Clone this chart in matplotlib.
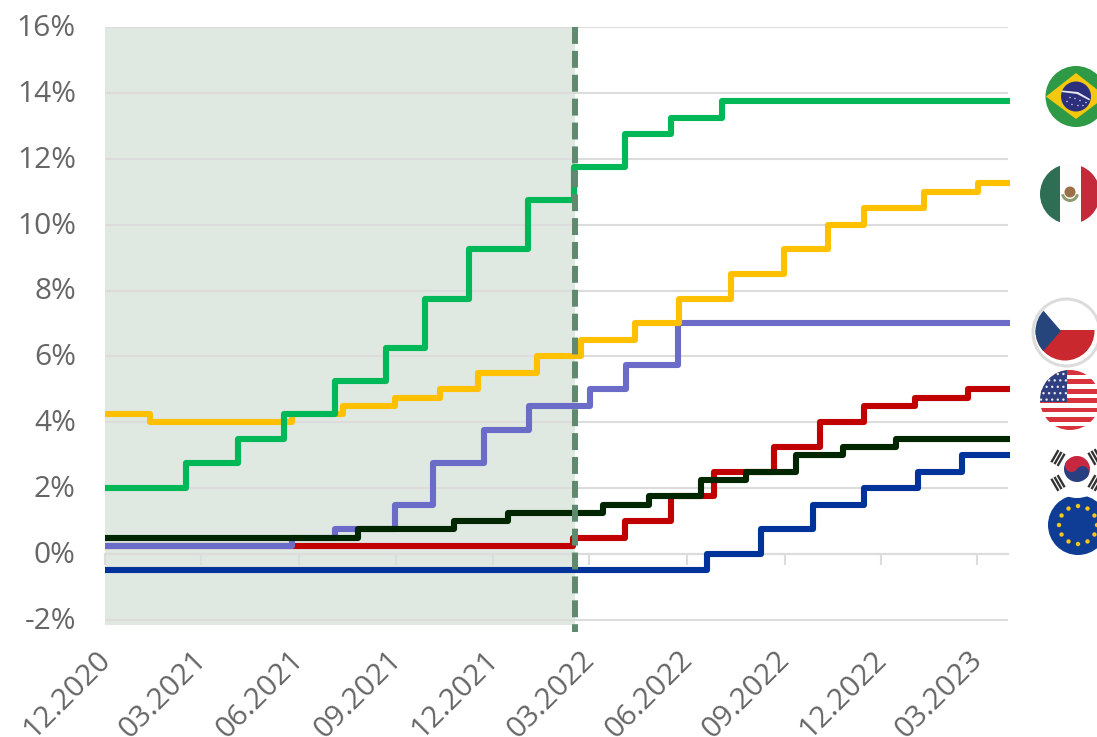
import matplotlib
matplotlib.use('Agg')
import matplotlib.pyplot as plt
from matplotlib.patches import Circle, Polygon, Rectangle, Wedge
from matplotlib.transforms import ScaledTranslation
import numpy as np

plt.rcParams['font.family'] = ['Open Sans', 'DejaVu Sans']

# x values are days counted from 12.2020, y values are policy rates in %
tick_days = [0, 90, 182, 274, 365, 455, 547, 639, 730, 820]
tick_labels = ['12.2020', '03.2021', '06.2021', '09.2021', '12.2021',
               '03.2022', '06.2022', '09.2022', '12.2022', '03.2023']
y_ticks = [-2, 0, 2, 4, 6, 8, 10, 12, 14, 16]
end_day = 851
cut_day = 442

eu_days = [0, 566, 617, 666, 714, 764, 806, end_day]
eu_rate = [-0.5, 0, 0.75, 1.5, 2, 2.5, 3, 3]
us_days = [0, 440, 489, 532, 573, 629, 672, 714, 762, 811, end_day]
us_rate = [0.25, 0.5, 1, 1.75, 2.5, 3.25, 4, 4.5, 4.75, 5, 5]
cz_days = [0, 176, 216, 273, 308, 356, 399, 456, 490, 539, end_day]
cz_rate = [0.25, 0.5, 0.75, 1.5, 2.75, 3.75, 4.5, 5, 5.75, 7, 7]
mx_days = [0, 42, 176, 224, 273, 315, 351, 406, 448, 498, 540, 589, 638, 680, 714, 770, 821, end_day]
mx_rate = [4.25, 4, 4.25, 4.5, 4.75, 5, 5.5, 6, 6.5, 7, 7.75, 8.5, 9.25, 10, 10.5, 11, 11.25, 11.25]
br_days = [0, 76, 125, 168, 216, 264, 301, 342, 398, 441, 489, 532, 580, end_day]
br_rate = [2, 2.75, 3.5, 4.25, 5.25, 6.25, 7.75, 9.25, 10.75, 11.75, 12.75, 13.25, 13.75, 13.75]
kr_days = [0, 238, 328, 379, 468, 511, 560, 603, 650, 694, 744, end_day]
kr_rate = [0.5, 0.75, 1, 1.25, 1.5, 1.75, 2.25, 2.5, 3, 3.25, 3.5, 3.5]

W, H = 1097, 737
fig = plt.figure(figsize=(W / 100, H / 100), dpi=100)
ax = fig.add_axes([105 / W, 1 - 625 / H, (1008 - 105) / W, (625 - 27) / H])

ax.axvspan(0, cut_day, color='#dfe8e1', lw=0, zorder=0)
for days, rate, col in [(eu_days, eu_rate, '#003399'), (us_days, us_rate, '#C00000'),
                        (cz_days, cz_rate, '#6B6BC8'), (mx_days, mx_rate, '#FFC000'),
                        (br_days, br_rate, '#00B858'), (kr_days, kr_rate, '#002600')]:
    ax.plot(days, rate, drawstyle='steps-post', color=col, lw=4.4, clip_on=False,
            solid_joinstyle='round', solid_capstyle='butt', zorder=3)
ax.plot([cut_day, cut_day], [16, -2.37], color='#5f8a6e', lw=4.3, clip_on=False, zorder=4,
        linestyle=(0, (17 / 6, 7 / 6)), dash_capstyle='butt')

ax.set_xlim(0, 849)
ax.set_ylim(-2.155, 16)
ax.set_yticks(y_ticks)
ax.set_yticklabels(['%d%%' % v for v in y_ticks])
ax.set_xticks(tick_days)
ax.set_xticklabels(tick_labels)
ax.yaxis.grid(True, color='#dcdcdc', lw=1.5, zorder=1)
ax.set_axisbelow(True)
for side in ['top', 'right', 'left']:
    ax.spines[side].set_visible(False)
ax.spines['bottom'].set_position(('data', 0))
ax.spines['bottom'].set_color('#dcdcdc')
ax.spines['bottom'].set_linewidth(1.5)
ax.tick_params(axis='y', length=0, pad=21, labelsize=21.5, labelcolor='#666666')
ax.tick_params(axis='x', length=8, width=1.5, color='#dcdcdc', pad=64, labelsize=21.5,
               labelcolor='#666666', labelrotation=45)
for lab in ax.get_xticklabels():
    lab.set_ha('right')
    lab.set_va('top')
    lab.set_rotation_mode('anchor')
    lab.set_transform(lab.get_transform() + ScaledTranslation(-9 / 100, 9 / 100, fig.dpi_scale_trans))
for lab in ax.get_yticklabels():
    lab.set_transform(lab.get_transform() + ScaledTranslation(0, 1.5 / 72, fig.dpi_scale_trans))

# flags, in an overlay measured in image pixels
fl = fig.add_axes([0, 0, 1, 1], zorder=5)
fl.set_xlim(0, W)
fl.set_ylim(H, 0)
fl.axis('off')


def flag(cx, cy, r, shapes):
    clip = Circle((cx, cy), r, transform=fl.transData)
    for s in shapes:
        fl.add_patch(s)
        s.set_clip_path(clip)


def rect(x0, y0, x1, y1, col):
    return Rectangle((x0, y0), x1 - x0, y1 - y0, color=col, lw=0)


# Brazil
br_shapes = [
    rect(1040, 60, 1110, 130, '#2f9a45'),
    Polygon([(1046, 96.5), (1076, 73), (1106, 96.5), (1076, 119)], color='#f3c80f', lw=0),
    Circle((1076, 96.5), 15, color='#2c2f7c', lw=0),
    Polygon([(1062, 90.5), (1078, 92), (1090, 99), (1089.5, 100.5), (1077, 94), (1061.5, 92)], color='#e8e8f0', lw=0),
]
for dx, dy in [(-9, 5), (-4, 8), (-1, 2), (4, 4), (2, 9), (7, 9), (10, 6), (-6, 1)]:
    br_shapes.append(Circle((1076 + dx, 96.5 + dy), 0.7, color='#e8e8f0', lw=0))
flag(1076, 96.5, 30.5, br_shapes)

# Mexico
flag(1070, 194, 30, [
    rect(1035, 160, 1060, 230, '#2e6e55'),
    rect(1060, 160, 1081, 230, '#fdfdfd'),
    rect(1081, 160, 1105, 230, '#c52a3a'),
    Wedge((1070, 193), 9, 10, 170, width=3, color='#8f9a70', lw=0),
    Circle((1070, 192), 5.5, color='#9a7048', lw=0),
])

# Czech
fl.add_patch(Circle((1066.5, 332.5), 33.5, facecolor='white', edgecolor='#dcdcdc', lw=2.2))
flag(1065, 331, 29.5, [
    rect(1030, 300, 1100, 330, '#ffffff'),
    rect(1030, 330, 1100, 370, '#c9282f'),
    Polygon([(1030, 295), (1061, 331), (1030, 366)], color='#27457d', lw=0),
])

# USA
us_shapes = [rect(1035, 365, 1105, 435, '#ffffff')]
for i in range(7):
    us_shapes.append(rect(1035, 370 + i * 9.4, 1105, 374.7 + i * 9.4, '#d8323c'))
us_shapes.append(rect(1035, 365, 1067, 402, '#2f3f7f'))
for row in range(5):
    for col in range(5):
        us_shapes.append(Circle((1041 + col * 5.6 + (row % 2) * 2.5, 374 + row * 6.4), 1.2,
                                color='#e8e8f0', lw=0))
flag(1070, 400, 30, us_shapes)

# EU, partly covered by the white Korean disc
eu_shapes = [rect(1040, 490, 1110, 560, '#0f3c94')]
for a in np.arange(0, 360, 30):
    eu_shapes.append(Circle((1078 + 19 * np.cos(np.radians(a)), 525 + 19 * np.sin(np.radians(a))), 2.2,
                            color='#f5c518', lw=0))
flag(1078, 525, 30, eu_shapes)

# Korea
fl.add_patch(Circle((1077, 468), 30, color='#ffffff', lw=0, zorder=2))
fl.add_patch(Wedge((1077, 469), 13, 213, 393, color='#c8283f', lw=0, zorder=3))
fl.add_patch(Wedge((1077, 469), 13, 33, 213, color='#2a3f82', lw=0, zorder=3))
fl.add_patch(Circle((1071.5, 465.5), 6.5, color='#c8283f', lw=0, zorder=3))
fl.add_patch(Circle((1082.5, 472.5), 6.5, color='#2a3f82', lw=0, zorder=3))
for sx, sy, ang in [(1058, 458, 30), (1095, 457, -30), (1058, 483, -30), (1095, 483, 30)]:
    u = np.array([np.cos(np.radians(ang)), np.sin(np.radians(ang))])
    n = np.array([-u[1], u[0]])
    for k in [-3.6, 0, 3.6]:
        a = np.array([sx, sy]) + k * u - 7 * n
        b = np.array([sx, sy]) + k * u + 7 * n
        fl.plot([a[0], b[0]], [a[1], b[1]], color='#333333', lw=1.7, zorder=3, solid_capstyle='butt')
fl.set_xlim(0, W)
fl.set_ylim(H, 0)

fig.savefig('out.png', dpi=100)
